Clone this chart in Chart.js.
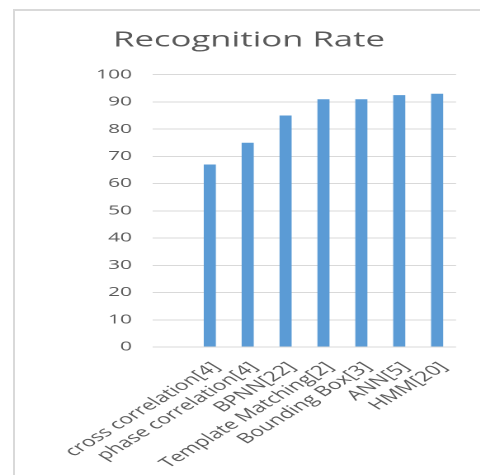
<!DOCTYPE html>
<html>
<head>
<meta charset="utf-8">
<script src="https://cdn.jsdelivr.net/npm/chart.js@4"></script>
<style>
  html, body { margin: 0; padding: 0; background: #fff; overflow: hidden; }
  #frame {
    position: absolute;
    left: 13px;
    top: 9px;
    width: 480px;
    height: 480px;
    border-left: 2px solid #d9d9d9;
    border-top: 2px solid #d9d9d9;
  }
  #stretch {
    position: absolute;
    left: 0;
    top: 0;
    width: 291px;
    height: 475px;
    transform: scaleX(1.65);
    transform-origin: 0 0;
  }
</style>
</head>
<body>
<div id="frame"></div>
<div id="stretch">
  <canvas id="rateChart" width="291" height="475" style="width:291px;height:475px"></canvas>
</div>
<script>
  // the source picture is stretched sideways, so the chart is drawn narrow and scaled in css

  // categories (first slot is empty in the original)
  const methods = [
    "",
    "cross correlation[4]",
    "phase correlation[4]",
    "BPNN[22]",
    "Template Matching[2]",
    "Bounding Box[3]",
    "ANN[5]",
    "HMM[20]",
  ];

  // recognition rate values (%)
  const rates = [null, 67, 75, 85, 91, 91, 92.5, 93];

  // y ticks
  const yMin = 0;
  const yMax = 100;
  const yStep = 10;

  const textGrey = "#595959";
  const gridGrey = "#d9d9d9";
  const barBlue = "#5b9bd5";

  new Chart(document.getElementById("rateChart"), {
    type: "bar",
    data: {
      labels: methods,
      datasets: [
        {
          label: "Recognition Rate",
          data: rates,
          backgroundColor: barBlue,
          borderWidth: 0,
          barPercentage: 0.32,
          categoryPercentage: 1,
        },
      ],
    },
    options: {
      responsive: false,
      animation: false,
      devicePixelRatio: 2,
      layout: {
        padding: { left: 25.4, right: 14.6, top: 0, bottom: 0 },
      },
      plugins: {
        legend: { display: false },
        tooltip: { enabled: false },
        title: {
          display: true,
          text: "Recognition Rate",
          color: textGrey,
          font: { family: "'Open Sans'", size: 21, weight: "normal" },
          padding: { top: 28, bottom: 21.5 },
        },
      },
      scales: {
        x: {
          grid: { display: false, drawTicks: false },
          border: { display: false },
          ticks: {
            color: textGrey,
            font: { family: "'Open Sans'", size: 14 },
            minRotation: 45,
            maxRotation: 45,
            autoSkip: false,
            padding: 12,
            labelOffset: 4,
          },
          afterFit: (scale) => {
            scale.height = 128;
          },
        },
        y: {
          min: yMin,
          max: yMax,
          border: { display: false },
          grid: { color: gridGrey, lineWidth: 1, drawTicks: false },
          ticks: {
            stepSize: yStep,
            color: textGrey,
            font: { family: "'Open Sans'", size: 12.7 },
            padding: 12.7,
          },
          afterFit: (scale) => {
            scale.width = 67.3;
          },
        },
      },
    },
  });
</script>
</body>
</html>
